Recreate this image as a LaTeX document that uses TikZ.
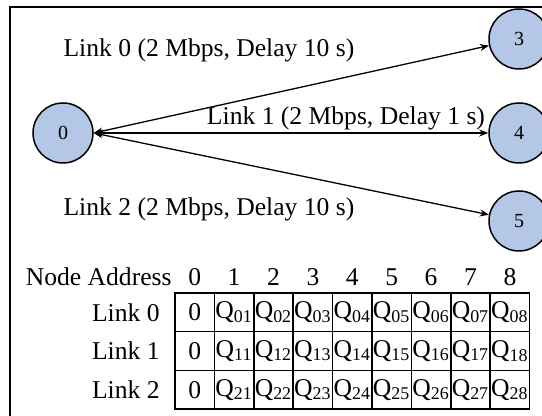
\documentclass[tikz,border=0pt]{standalone}
\usepackage{fontspec}
\setmainfont{Liberation Serif}
\definecolor{nodeblue}{HTML}{B4C7E7}
\usetikzlibrary{arrows.meta}

\begin{document}
\begin{tikzpicture}[
  x=0.5pt, y=0.5pt,
  host/.style={circle, draw, line width=0.75pt, fill=nodeblue,
               minimum size=30pt, inner sep=0pt, font=\fontsize{10}{11}\selectfont},
  link/.style={{Stealth[length=4.5pt,width=3.5pt]}-{Stealth[length=4.5pt,width=3.5pt]}, line width=0.65pt},
  lbl/.style={inner sep=0pt, font=\fontsize{12.8}{14}\selectfont},
  cell/.style={draw, line width=0.75pt, minimum width=19.7pt, minimum height=19.3pt,
               inner sep=0pt, font=\fontsize{12.8}{14}\selectfont},
]
\useasboundingbox (0,0) rectangle (542,416);
\clip (0,0) rectangle (542,416);
\draw[line width=1pt] (10,-20) |- (600,409);

% topology
\node[host] (n0) at (63,283) {0};
\node[host] (n3) at (519,377) {3};
\node[host] (n4) at (519,283) {4};
\node[host] (n5) at (519,195) {5};

\draw[link] (n0.east) -- (n3);
\draw[link] (n0.east) -- (n4);
\draw[link] (n0.east) -- (n5);

\node[lbl] (l0) at (209,366) {Link 0 (2 Mbps, Delay 10 s)};
\node[lbl] (l1) at (346,298) {Link 1 (2 Mbps, Delay 1 s)};
\node[lbl] (l2) at (209,207) {Link 2 (2 Mbps, Delay 10 s)};

% address table
\node[lbl, anchor=east] (addr) at (172,139) {Node Address};
\foreach \c in {0,...,8}
  \node[lbl] (col\c) at (194.7+39.4*\c,139) {\c};
\foreach \r in {0,1,2} {
  \node[lbl, anchor=east] (row\r) at (160,103.7-38.7*\r) {Link \r};
  \node[cell] (cell\r0) at (194.7,103.7-38.7*\r) {0};
  \foreach \c in {1,...,8}
    \node[cell] (cell\r\c) at (194.7+39.4*\c,103.7-38.7*\r) {Q\textsubscript{\r\c}};
}
\end{tikzpicture}
\end{document}
